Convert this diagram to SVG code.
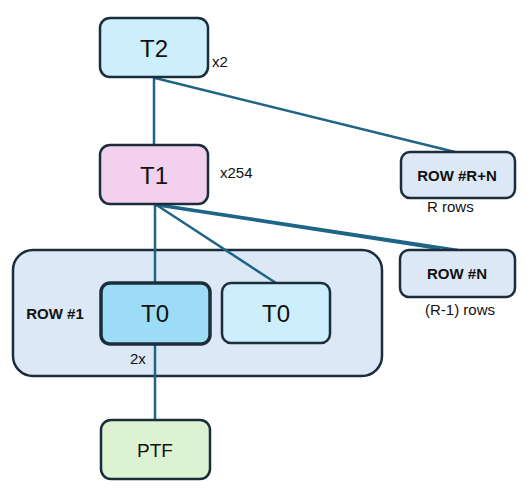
<svg xmlns="http://www.w3.org/2000/svg" width="531" height="502" viewBox="0 0 531 502">
<style>
.box{stroke:#1b2c3a;stroke-width:2.5}
.conn{stroke:#1e6587;stroke-width:2.5;fill:none}
.big{font-family:"Liberation Sans",Arial,sans-serif;font-size:24px;fill:#111;text-anchor:middle}
.row{font-family:"Liberation Sans",Arial,sans-serif;font-size:15px;font-weight:bold;fill:#111;text-anchor:middle}
.sm{font-family:"Liberation Sans",Arial,sans-serif;font-size:15px;fill:#111}
</style>
<rect width="531" height="502" fill="#fff"/>
<g id="row1">
<rect class="box" x="13" y="250" width="369" height="126" rx="20" fill="#dce8f5"/>
<text class="row" x="55" y="319">ROW #1</text>
<text class="sm" x="130" y="364">2x</text>
</g>
<g id="connectors">
<line class="conn" x1="154" y1="78" x2="154" y2="145"/>
<line class="conn" x1="155" y1="78" x2="455" y2="152"/>
<line class="conn" x1="155" y1="204" x2="155" y2="283"/>
<line class="conn" x1="155" y1="204" x2="276" y2="283"/>
<line class="conn" x1="155" y1="204" x2="458" y2="250"/>
<line class="conn" x1="155" y1="205" x2="440" y2="249"/>
<line class="conn" x1="155" y1="344" x2="155" y2="420"/>
</g>
<g id="T2">
<rect class="box" x="100" y="18" width="108" height="59" rx="10" fill="#cdeefc"/>
<text class="big" x="154" y="57">T2</text>
<text class="sm" x="212" y="67">x2</text>
</g>
<g id="T1">
<rect class="box" x="100" y="145" width="108" height="59" rx="10" fill="#f2d0ee"/>
<text class="big" x="154" y="184">T1</text>
<text class="sm" x="220" y="178">x254</text>
</g>
<g id="rowRN">
<rect class="box" x="401" y="152" width="114" height="46" rx="9" fill="#dce8f5"/>
<text class="row" x="457" y="181">ROW #R+N</text>
<text class="sm" x="427" y="212">R rows</text>
</g>
<g id="rowN">
<rect class="box" x="400" y="250" width="115" height="47" rx="9" fill="#dce8f5"/>
<text class="row" x="457" y="279">ROW #N</text>
<text class="sm" x="425" y="315">(R-1) rows</text>
</g>
<g id="T0a">
<rect x="101" y="283" width="109" height="61" rx="9" fill="#9ddcf7" stroke="#1b2c3a" stroke-width="3.5"/>
<text class="big" x="155" y="322">T0</text>
</g>
<g id="T0b">
<rect class="box" x="222" y="283" width="108" height="60" rx="9" fill="#cdeefc"/>
<text class="big" x="276" y="322">T0</text>
</g>
<g id="PTF">
<rect class="box" x="101" y="420" width="109" height="59" rx="10" fill="#dcf2d0"/>
<text x="155" y="457" font-family="'Liberation Sans',Arial,sans-serif" font-size="19" fill="#111" text-anchor="middle">PTF</text>
</g>
</svg>
